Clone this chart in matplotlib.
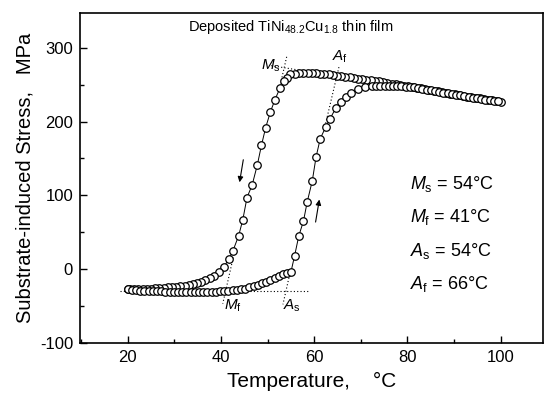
import matplotlib
matplotlib.use("Agg")
import matplotlib.pyplot as plt
from matplotlib.ticker import MultipleLocator

plt.rcParams['font.family'] = ['Liberation Sans', 'DejaVu Sans']
plt.rcParams['mathtext.fontset'] = 'custom'
plt.rcParams['mathtext.rm'] = 'Liberation Sans'
plt.rcParams['mathtext.it'] = 'Liberation Sans:italic'
plt.rcParams['axes.unicode_minus'] = False

# Cooling branch (100 -> 20 C)
cool_T = [100.0, 99.1, 98.2, 97.3, 96.4, 95.5, 94.6, 93.7, 92.8, 91.9, 91.0, 90.1, 89.2, 88.3,
          87.4, 86.5, 85.6, 84.7, 83.8, 82.9, 82.0, 81.1, 80.2, 79.3, 78.4, 77.5, 76.6, 75.7,
          74.8, 73.9, 73.0, 72.1, 71.2, 70.3, 69.4, 68.5, 67.6, 66.7, 65.8, 64.9, 64.0, 63.1,
          62.2, 61.3, 60.4, 59.5, 58.6, 57.7, 56.8, 55.9, 54.9, 54.1, 53.5, 52.7, 51.6, 50.6,
          49.6, 48.7, 47.8, 46.7, 45.6, 44.7, 43.8, 42.6, 41.7, 40.6, 39.5, 38.5, 37.6, 36.7,
          35.8, 34.9, 34.0, 33.1, 32.2, 31.3, 30.4, 29.5, 28.6, 27.7, 26.8, 25.9, 25.0, 24.1,
          23.2, 22.3, 21.4, 20.5, 20.0]
cool_S = [227, 228, 229, 229.5, 230.5, 231.5, 232.5, 233, 234, 235, 236, 237, 238, 239,
          240, 241, 242, 243, 244, 245, 246, 247, 248, 249, 250, 250.5, 251.5, 252.5,
          253.5, 254.5, 255, 256, 257, 258, 258.5, 259.5, 260, 261, 262, 262.5, 263, 264,
          264.5, 265, 265.5, 266, 266, 266.5, 266, 265, 264, 259, 255, 246, 230, 213,
          192, 168, 141, 114, 97, 67, 45, 25, 13, 3, -4, -9, -12.5, -15,
          -17, -19, -20.5, -21.5, -22.5, -23.5, -24, -24.5, -25, -25.5, -26, -26, -26.5, -26.5,
          -27, -27, -27, -27, -27]

# Heating branch (20 -> 100 C)
heat_T = [20.0, 20.9, 21.8, 22.7, 23.6, 24.5, 25.4, 26.3, 27.2, 28.1, 29.0, 29.9, 30.8, 31.7,
          32.6, 33.5, 34.4, 35.3, 36.2, 37.1, 38.0, 38.9, 39.8, 40.7, 41.6, 42.5, 43.4, 44.3,
          45.2, 46.1, 47.0, 47.9, 48.8, 49.7, 50.6, 51.5, 52.4, 53.3, 54.2, 55.0, 55.8, 56.7,
          57.7, 58.5, 59.6, 60.4, 61.3, 62.5, 63.4, 64.6, 65.7, 66.8, 67.9, 69.4, 70.9, 72.4,
          73.3, 74.2, 75.1, 76.0, 76.9, 77.8, 78.7, 79.6, 80.5, 81.4, 82.3, 83.2, 84.1, 85.0,
          85.9, 86.8, 87.7, 88.6, 89.5, 90.4, 91.3, 92.2, 93.1, 94.0, 94.9, 95.8, 96.7, 97.6,
          98.5, 99.4]
heat_S = [-27, -28, -29, -29.5, -30, -30, -30.5, -30.5, -30.5, -31, -31, -31, -31, -31,
          -31, -31, -31, -31, -31, -31, -31, -31, -30.5, -30, -29.5, -29, -28, -27.5,
          -26.5, -25, -23.5, -22, -19.5, -17, -14.5, -12, -9, -6.5, -5, -4.5, 18, 45,
          65, 91, 120, 152, 177, 193, 204, 218, 227, 234, 239.5, 244, 247, 248,
          248.5, 248.5, 248.5, 248.5, 248.5, 248, 248, 247.5, 247, 246.5, 245.5, 244.5, 243.5, 242.5,
          241.5, 240.5, 239.5, 238.5, 237.5, 236.5, 235.5, 234.5, 233.5, 232.5, 232, 231, 230, 229,
          228, 227.5]

# Construction (tangent) lines
base_T = [18.3, 59.0]
base_S = [-30, -30]
top_T = [50.8, 66.5]
top_S = [276, 260]
ms_T = [54.1, 52.8]
ms_S = [288, 252]
mf_T = [42.8, 40.4]
mf_S = [20, -47]
as_T = [54.9, 53.3]
as_S = [-3, -48]
af_T = [65.3, 62.4]
af_S = [274, 196]

fig = plt.figure(figsize=(5.45, 3.98), dpi=100)
ax = fig.add_axes([0.1468, 0.139, 0.85, 0.8275])

dot = dict(color='black', lw=0.8, ls=(0, (1, 2)))
ax.plot(base_T, base_S, **dot)
ax.plot(top_T, top_S, **dot)
ax.plot(ms_T, ms_S, **dot)
ax.plot(mf_T, mf_S, **dot)
ax.plot(as_T, as_S, **dot)
ax.plot(af_T, af_S, **dot)

mk = dict(color='black', lw=0.7, marker='o', ms=5.4, mfc='white', mec='black', mew=0.9)
ax.plot(cool_T, cool_S, **mk)
ax.plot(heat_T, heat_S, **mk)

ax.set_xlim(9.8, 109.1)
ax.set_ylim(-100, 347)
ax.xaxis.set_major_locator(MultipleLocator(20))
ax.xaxis.set_minor_locator(MultipleLocator(10))
ax.yaxis.set_major_locator(MultipleLocator(100))
ax.yaxis.set_minor_locator(MultipleLocator(50))
ax.tick_params(which='both', direction='in', top=False, right=False, labelsize=12, width=1)
ax.tick_params(which='major', length=5, pad=5)
ax.tick_params(which='minor', length=3)
for s in ax.spines.values():
    s.set_linewidth(1.2)

ax.set_xlabel('Temperature,    °C', fontsize=15, labelpad=5)
ax.set_ylabel('Substrate-induced Stress,   MPa', fontsize=14.5, labelpad=4)

ax.text(55.0, 329, r'Deposited TiNi$_{\mathregular{48.2}}$Cu$_{\mathregular{1.8}}$ thin film',
        ha='center', va='center', fontsize=10.5)

ax.text(50.6, 276, r'$\mathit{M}_{\mathregular{s}}$', ha='center', va='center', fontsize=11)
ax.text(65.6, 288, r'$\mathit{A}_{\mathregular{f}}$', ha='center', va='center', fontsize=11)
ax.text(42.6, -50, r'$\mathit{M}_{\mathregular{f}}$', ha='center', va='center', fontsize=11)
ax.text(55.2, -50, r'$\mathit{A}_{\mathregular{s}}$', ha='center', va='center', fontsize=11)

ax.annotate('', xy=(43.9, 114), xytext=(44.9, 152),
            arrowprops=dict(arrowstyle='-|>', color='black', lw=0.8, mutation_scale=8))
ax.annotate('', xy=(61.2, 98), xytext=(60.2, 60),
            arrowprops=dict(arrowstyle='-|>', color='black', lw=0.8, mutation_scale=8))

labels = [r'$\mathit{M}_{\mathregular{s}}$ = 54°C', r'$\mathit{M}_{\mathregular{f}}$ = 41°C',
          r'$\mathit{A}_{\mathregular{s}}$ = 54°C', r'$\mathit{A}_{\mathregular{f}}$ = 66°C']
ypos = [116, 70, 25, -20]
for lab, y in zip(labels, ypos):
    ax.text(80.6, y, lab, ha='left', va='center', fontsize=13)

fig.savefig('out.png', dpi=100)
